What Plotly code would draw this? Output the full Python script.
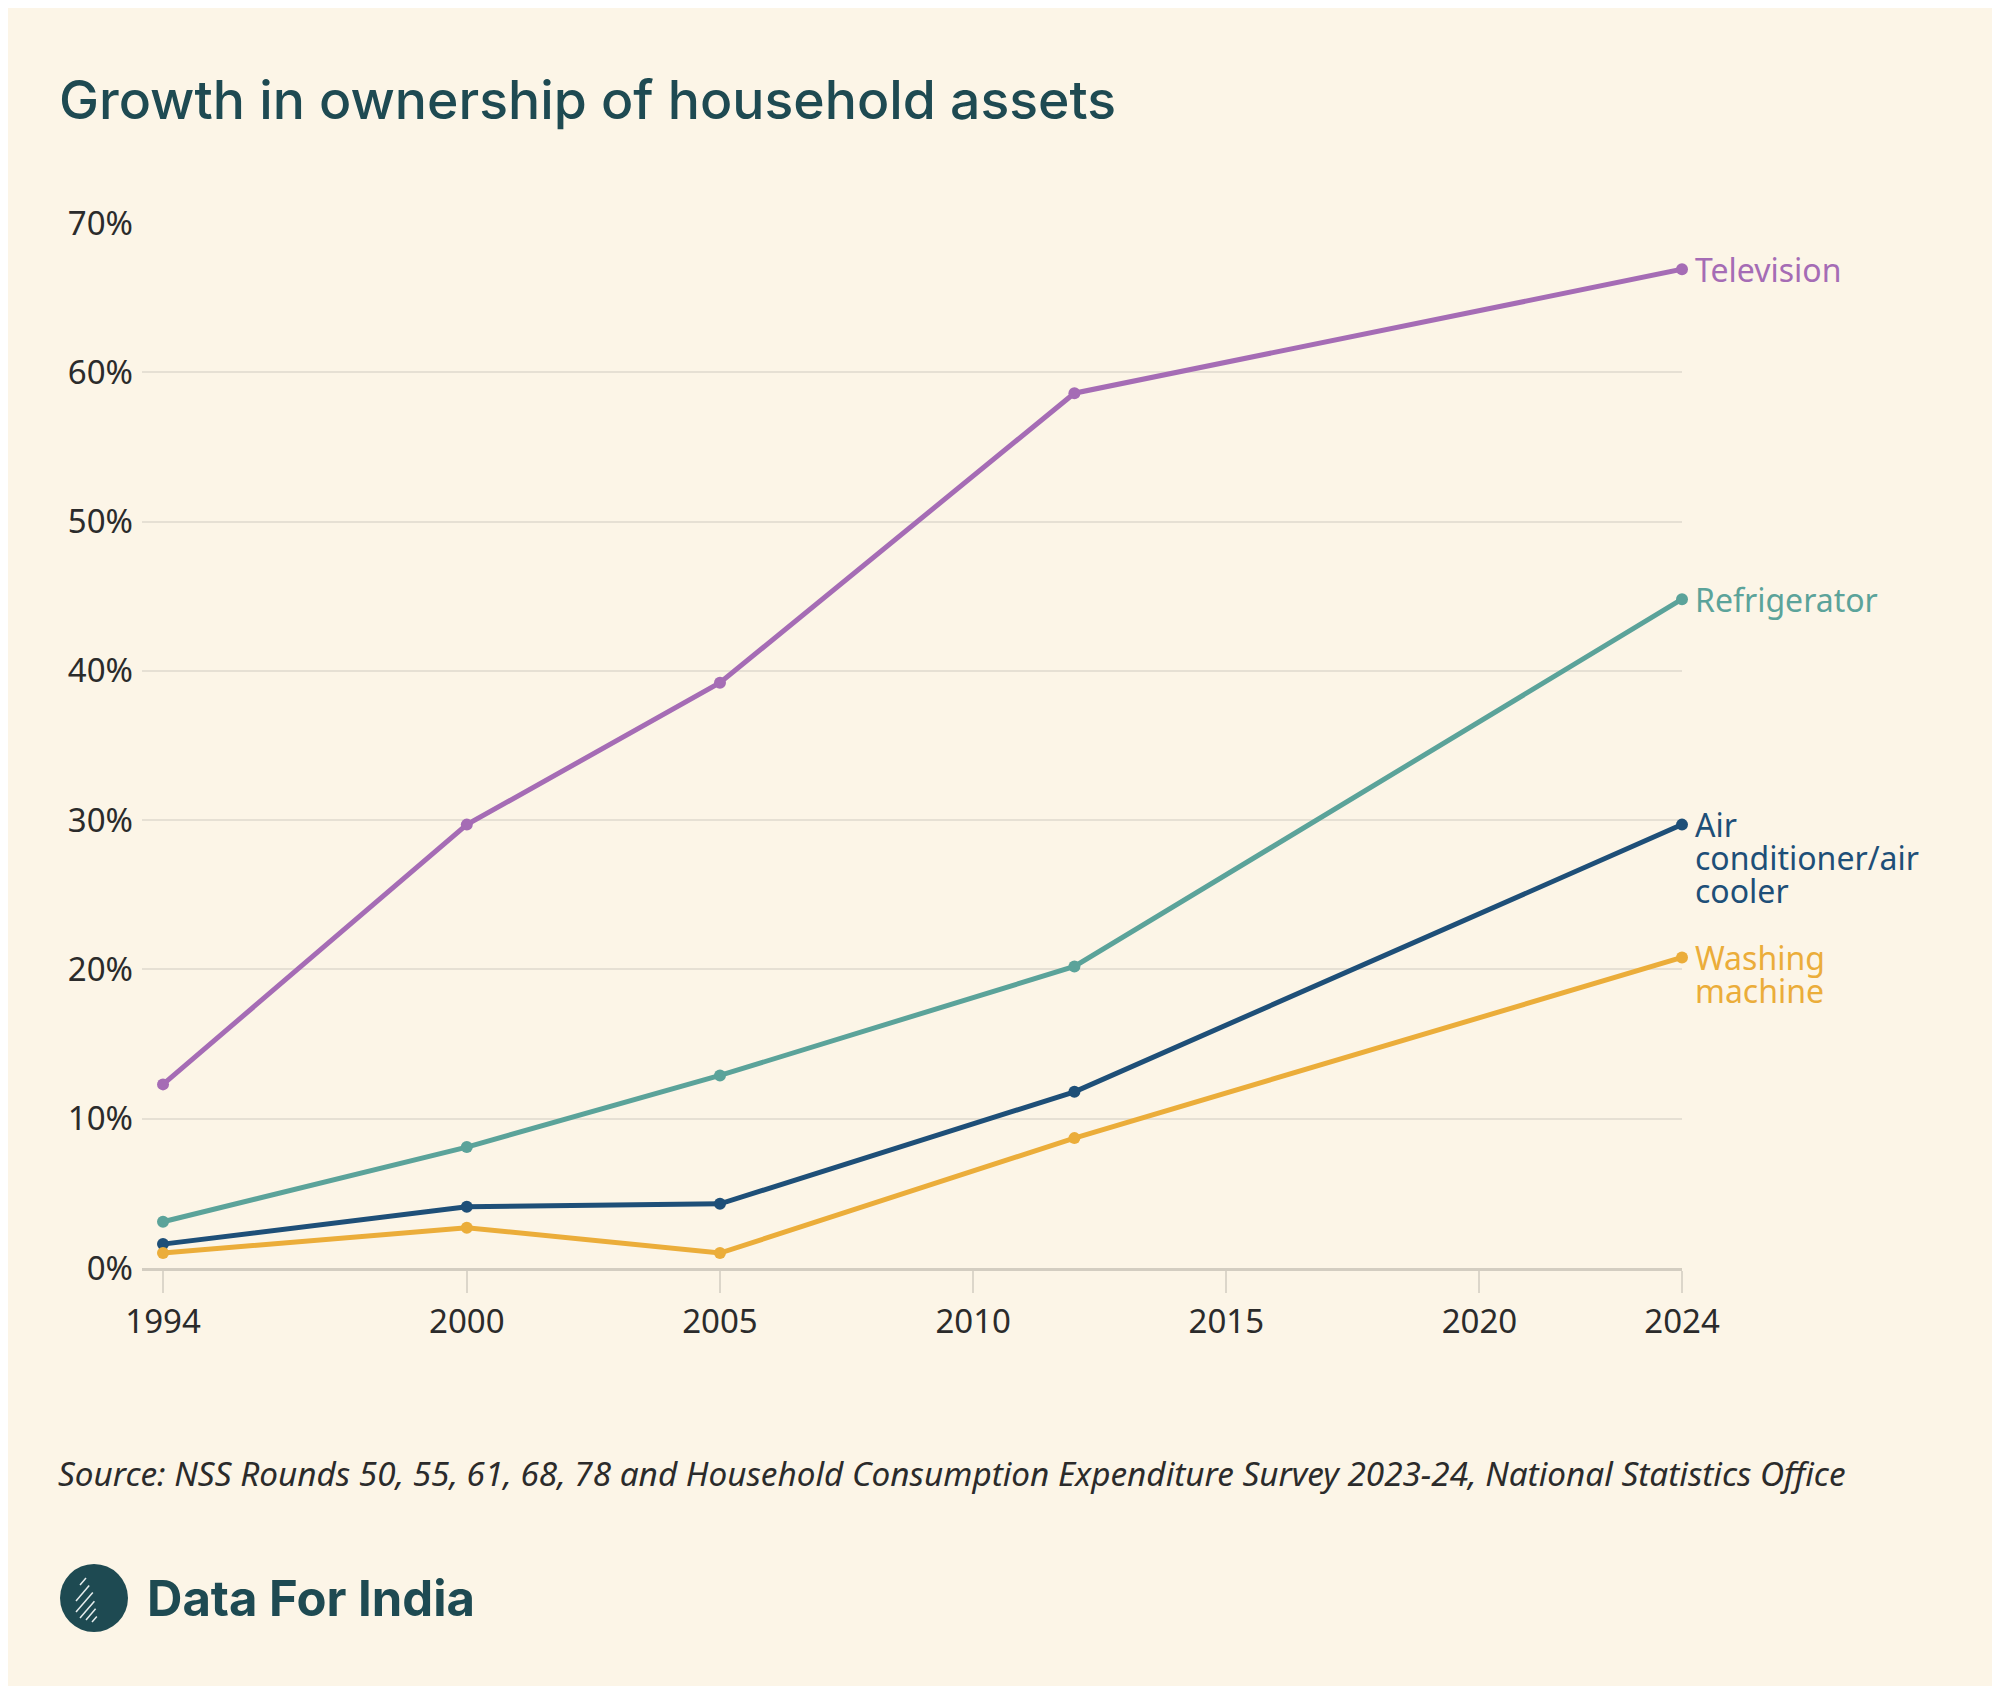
import plotly.graph_objects as go

# ---- data ----
years = [1994, 2000, 2005, 2012, 2024]
television = [12.3, 29.7, 39.2, 58.6, 66.9]
refrigerator = [3.1, 8.1, 12.9, 20.2, 44.8]
air_conditioner = [1.6, 4.1, 4.3, 11.8, 29.7]
washing_machine = [1.0, 2.7, 1.0, 8.7, 20.8]

series_names = ["Television", "Refrigerator", "Air<br>conditioner/air<br>cooler", "Washing<br>machine"]
series_values = [television, refrigerator, air_conditioner, washing_machine]
series_colors = ["#A56CB5", "#5BA39A", "#1E4F78", "#EBAD3A"]

x_ticks = [1994, 2000, 2005, 2010, 2015, 2020, 2024]
y_ticks = [0, 10, 20, 30, 40, 50, 60, 70]
y_tick_labels = ["0%", "10%", "20%", "30%", "40%", "50%", "60%", "70%"]

title_text = "Growth in ownership of household assets"
source_text = ("Source: NSS Rounds 50, 55, 61, 68, 78 and Household Consumption "
               "Expenditure Survey 2023-24, National Statistics Office")
brand_text = "Data For India"

# ---- layout geometry (pixels); page has an 8px body margin ----
OFF = 8
W, H = 2000 - 2 * OFF, 1694 - 2 * OFF
L, T = 142 - OFF, 223 - OFF
R, B = W - (1682 - OFF), H - (1268 - OFF)
PW, PH = W - L - R, H - T - B


def px(x):
    """reference page x -> paper x"""
    return (x - OFF - L) / PW


def py(y):
    """reference page y -> paper y"""
    return (H - B - (y - OFF)) / PH


BG = "#FCF5E7"
DARK = "#1E4A52"
LABEL_FONT = 32
LINE_GAP = 33

fig = go.Figure()
for name, vals, col in zip(series_names, series_values, series_colors):
    fig.add_trace(go.Scatter(
        x=years, y=vals, mode="lines+markers", name=name,
        line=dict(color=col, width=5),
        marker=dict(color=col, size=12),
        cliponaxis=False, showlegend=False, hoverinfo="skip",
    ))
    for i, part in enumerate(name.split("<br>")):
        fig.add_annotation(
            x=years[-1], y=vals[-1], xref="x", yref="y",
            text=part, showarrow=False, xanchor="left", align="left",
            yanchor="middle", yshift=-i * LINE_GAP, xshift=11,
            font=dict(family="Noto Sans", size=LABEL_FONT, color=col),
        )

# title
fig.add_annotation(x=px(57), y=py(100), xref="paper", yref="paper",
                   text=title_text, showarrow=False, xanchor="left", yanchor="middle",
                   font=dict(family="Inter", size=53.5, color=DARK, weight=500))
# source
fig.add_annotation(x=px(56), y=py(1473), xref="paper", yref="paper",
                   text="<i>" + source_text + "</i>", showarrow=False,
                   xanchor="left", yanchor="middle",
                   font=dict(family="Noto Sans", size=33.3, color="#2B2B2B"))
# brand
fig.add_annotation(x=px(145), y=py(1598), xref="paper", yref="paper",
                   text="<b>" + brand_text + "</b>", showarrow=False,
                   xanchor="left", yanchor="middle",
                   font=dict(family="Inter", size=49, color=DARK))

shapes = []
# logo circle
cx, cy, r = 94, 1598, 34
shapes.append(dict(type="circle", xref="paper", yref="paper",
                   x0=px(cx - r), x1=px(cx + r), y0=py(cy - r), y1=py(cy + r),
                   line=dict(width=0), fillcolor=DARK))
# stylised stripes inside logo
for dx0, dy0, ln in [(-14, -18, 10), (-18, -8, 22), (-18, 0, 28), (-14, 8, 24), (-8, 14, 16), (-2, 20, 8)]:
    shapes.append(dict(type="line", xref="paper", yref="paper",
                       x0=px(cx + dx0), y0=py(cy + dy0 + ln * 0.5),
                       x1=px(cx + dx0 + ln * 0.6), y1=py(cy + dy0 - ln * 0.2),
                       line=dict(color="#E8EEEE", width=1.5)))

fig.update_layout(
    width=W, height=H, autosize=False,
    margin=dict(l=L, r=R, t=T, b=B, pad=0),
    paper_bgcolor=BG, plot_bgcolor=BG,
    shapes=shapes,
    xaxis=dict(range=[1993.585, 2024], tickvals=x_ticks, ticktext=[str(v) for v in x_ticks],
               showgrid=False, zeroline=False, showline=True, linecolor="#D3CDC1", linewidth=3,
               ticks="outside", ticklen=22, tickwidth=2, tickcolor="#DCD6CA",
               tickfont=dict(family="Noto Sans", size=33, color="#2B2B2B"), fixedrange=True),
    yaxis=dict(range=[0, 70], tickvals=y_ticks, ticktext=y_tick_labels,
               showgrid=True, gridcolor="#E6E0D4", gridwidth=2, zeroline=False, showline=False,
               ticks="", ticklabelstandoff=8,
               tickfont=dict(family="Noto Sans", size=33, color="#2B2B2B"), fixedrange=True),
)

fig.write_html("out.html")
